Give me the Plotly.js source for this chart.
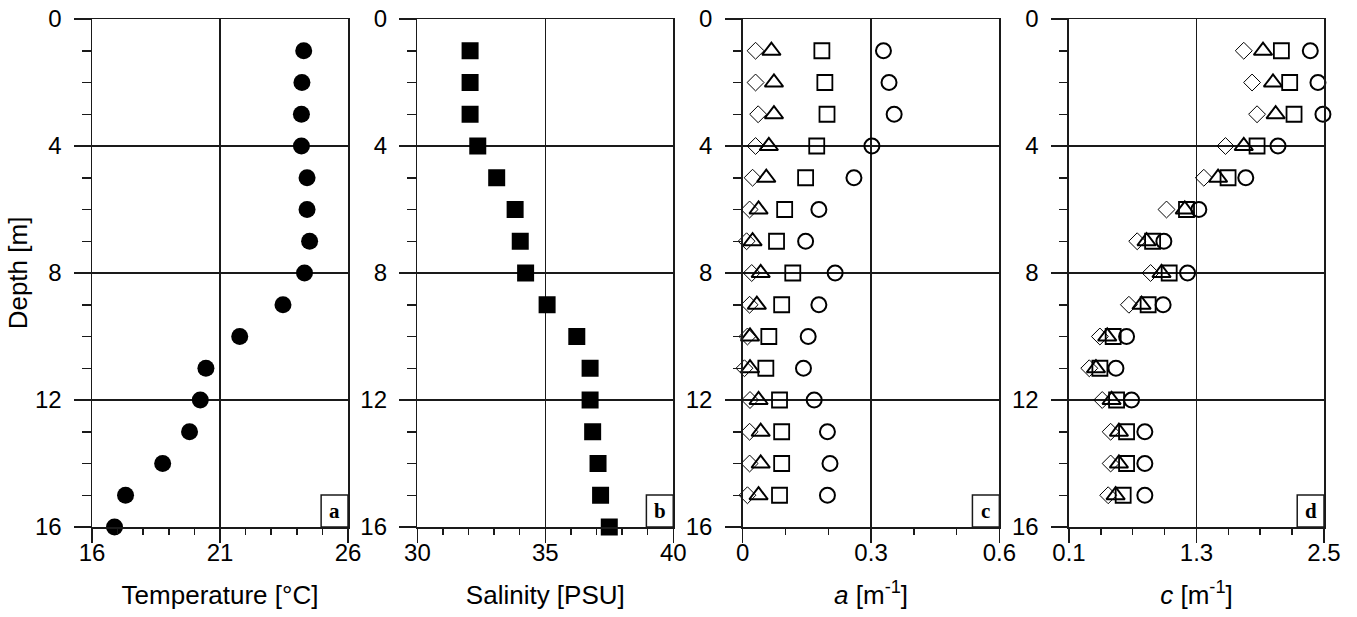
<!DOCTYPE html>
<html>
<head>
<meta charset="utf-8">
<script src="https://cdn.plot.ly/plotly-3.0.1.min.js"></script>
<style>
  html, body { margin: 0; padding: 0; background: #fff; }
  #chart { width: 1357px; height: 617px; }
</style>
</head>
<body>
<div id="chart"></div>
<script>
// Depth profiles: temperature, salinity, absorption a and attenuation c
const depthTS = [1, 2, 3, 4, 5, 6, 7, 8, 9, 10, 11, 12, 13, 14, 15, 16];
const temperature = [24.27, 24.2, 24.18, 24.18, 24.4, 24.4, 24.5, 24.3, 23.46, 21.77, 20.45, 20.23, 19.81, 18.76, 17.31, 16.88];
const salinity = [32.06, 32.06, 32.06, 32.36, 33.1, 33.82, 34.02, 34.23, 35.07, 36.23, 36.75, 36.75, 36.85, 37.06, 37.16, 37.5];

const depthOptics = [1, 2, 3, 4, 5, 6, 7, 8, 9, 10, 11, 12, 13, 14, 15];
// absorption a [m^-1], one array per marker series
const aDiamond  = [0.030, 0.030, 0.036, 0.030, 0.023, 0.016, 0.009, 0.021, 0.016, 0.011, 0.004, 0.017, 0.016, 0.016, 0.011];
const aTriangle = [0.067, 0.073, 0.073, 0.061, 0.055, 0.037, 0.023, 0.042, 0.033, 0.017, 0.017, 0.037, 0.042, 0.042, 0.037];
const aSquare   = [0.185, 0.192, 0.197, 0.173, 0.147, 0.098, 0.079, 0.117, 0.091, 0.061, 0.054, 0.086, 0.091, 0.091, 0.086];
const aCircle   = [0.329, 0.342, 0.354, 0.302, 0.260, 0.178, 0.147, 0.216, 0.178, 0.153, 0.142, 0.167, 0.198, 0.204, 0.198];
// attenuation c [m^-1]
const cDiamond  = [1.745, 1.823, 1.870, 1.573, 1.369, 1.018, 0.742, 0.868, 0.664, 0.391, 0.291, 0.413, 0.492, 0.492, 0.469];
const cTriangle = [1.926, 2.020, 2.045, 1.745, 1.503, 1.190, 0.830, 0.971, 0.783, 0.460, 0.354, 0.501, 0.570, 0.570, 0.539];
const cSquare   = [2.099, 2.177, 2.218, 1.870, 1.597, 1.206, 0.887, 1.043, 0.845, 0.516, 0.391, 0.548, 0.642, 0.642, 0.610];
const cCircle   = [2.371, 2.443, 2.490, 2.067, 1.764, 1.322, 0.993, 1.216, 0.986, 0.642, 0.542, 0.689, 0.814, 0.814, 0.814];

const panelLetters = ['a', 'b', 'c', 'd'];
const xTitles = ['Temperature [°C]', 'Salinity [PSU]', '<i>a</i> [m<sup>-1</sup>]', '<i>c</i> [m<sup>-1</sup>]'];
const xRanges = [[16, 26], [30, 40], [0, 0.6], [0.1, 2.5]];
const xMajor = [5, 5, 0.3, 1.2];
const xMinor = [1, 1, 0.1, 0.3];

const INK = '#1a1a1a';
const FONT = 'Liberation Sans, Arial, sans-serif';
const domains = [[0, 0.2078], [0.2641, 0.4718], [0.5282, 0.7365], [0.7930, 1.0]];

function pts(x, y, idx, symbol, size, lw) {
  const ax = idx === 0 ? '' : String(idx + 1);
  return {
    type: 'scatter', mode: 'markers', x: x, y: y,
    xaxis: 'x' + ax, yaxis: 'y' + ax, showlegend: false, hoverinfo: 'skip',
    cliponaxis: false,
    marker: { symbol: symbol, size: size, color: '#000', line: { color: '#000', width: lw } }
  };
}

const data = [
  pts(temperature, depthTS, 0, 'circle', 17, 0),
  pts(salinity, depthTS, 1, 'square', 17, 0),
  pts(aDiamond, depthOptics, 2, 'diamond-open', 13, 1),
  pts(aTriangle, depthOptics, 2, 'triangle-up-open', 16, 2),
  pts(aSquare, depthOptics, 2, 'square-open', 15, 1.8),
  pts(aCircle, depthOptics, 2, 'circle-open', 15, 2),
  pts(cDiamond, depthOptics, 3, 'diamond-open', 13, 1),
  pts(cTriangle, depthOptics, 3, 'triangle-up-open', 16, 2),
  pts(cSquare, depthOptics, 3, 'square-open', 15, 1.8),
  pts(cCircle, depthOptics, 3, 'circle-open', 15, 2)
];

const layout = {
  width: 1357, height: 617,
  margin: { l: 92, r: 33, t: 19, b: 90 },
  paper_bgcolor: '#fff', plot_bgcolor: '#fff',
  font: { family: FONT, size: 24, color: '#000' },
  shapes: [], annotations: []
};

for (let i = 0; i < 4; i++) {
  const s = i === 0 ? '' : String(i + 1);
  // labelled axes carry frame, grid, labels and titles
  layout['xaxis' + s] = {
    domain: domains[i], anchor: 'y' + s, range: xRanges[i],
    tick0: xRanges[i][0], dtick: xMajor[i],
    ticks: '', ticklabelstandoff: 4,
    showgrid: true, gridcolor: INK, gridwidth: 1.5,
    showline: true, mirror: true, linecolor: INK, linewidth: 1.5,
    zeroline: false, fixedrange: true,
    tickfont: { family: FONT, size: 24 },
    title: { text: xTitles[i], font: { family: FONT, size: 26 }, standoff: 20 }
  };
  layout['yaxis' + s] = {
    domain: [0, 1], anchor: 'x' + s, range: [16, 0], autorange: false,
    tick0: 0, dtick: 4,
    ticks: '', ticklabelstandoff: 24,
    showgrid: true, gridcolor: INK, gridwidth: 1.5,
    showline: true, mirror: true, linecolor: INK, linewidth: 1.5,
    zeroline: false, fixedrange: true,
    tickfont: { family: FONT, size: 24 },
    title: i === 0 ? { text: 'Depth [m]', font: { family: FONT, size: 26 }, standoff: 0 } : { text: '' }
  };
  // companion axes that draw the major and minor tick marks
  const xt = 'x' + (i + 5), yt = 'y' + (i + 5);
  layout['xaxis' + (i + 5)] = {
    domain: domains[i], anchor: 'y' + s, overlaying: 'x' + s, matches: 'x' + s,
    range: xRanges[i], tick0: xRanges[i][0], dtick: xMajor[i],
    ticks: 'outside', ticklen: 15, tickwidth: 1.5, tickcolor: INK,
    minor: { dtick: xMinor[i], tick0: xRanges[i][0], ticks: 'outside', ticklen: 7, tickwidth: 1.5, tickcolor: INK, showgrid: false },
    showticklabels: false, showgrid: false, showline: false, zeroline: false, fixedrange: true
  };
  layout['yaxis' + (i + 5)] = {
    domain: [0, 1], anchor: 'x' + s, overlaying: 'y' + s, matches: 'y' + s,
    range: [16, 0], autorange: false, tick0: 0, dtick: 4,
    ticks: 'outside', ticklen: 17, tickwidth: 1.5, tickcolor: INK,
    minor: { dtick: 1, tick0: 0, ticks: 'outside', ticklen: 9, tickwidth: 1.5, tickcolor: INK, showgrid: false },
    showticklabels: false, showgrid: false, showline: false, zeroline: false, fixedrange: true
  };
  // empty traces so the tick-mark axes get drawn
  data.push({ type: 'scatter', mode: 'markers', x: [], y: [], xaxis: xt, yaxis: 'y' + s, showlegend: false, hoverinfo: 'skip' });
  data.push({ type: 'scatter', mode: 'markers', x: [], y: [], xaxis: 'x' + s, yaxis: yt, showlegend: false, hoverinfo: 'skip' });
  // panel letter in a small box at the lower right corner
  layout.shapes.push({
    type: 'rect', xref: 'x' + s + ' domain', yref: 'y' + s + ' domain',
    x0: 0.895, x1: 1, y0: 0, y1: 0.063,
    line: { color: INK, width: 1.5 }, fillcolor: '#fff', layer: 'above'
  });
  layout.annotations.push({
    xref: 'x' + s + ' domain', yref: 'y' + s + ' domain',
    x: 0.9475, y: 0.0315, xanchor: 'center', yanchor: 'middle',
    text: '<b>' + panelLetters[i] + '</b>', showarrow: false,
    font: { family: 'Liberation Serif, Times New Roman, serif', size: 21, color: '#000' }
  });
}

Plotly.newPlot('chart', data, layout, { displayModeBar: false, staticPlot: true });
</script>
</body>
</html>
